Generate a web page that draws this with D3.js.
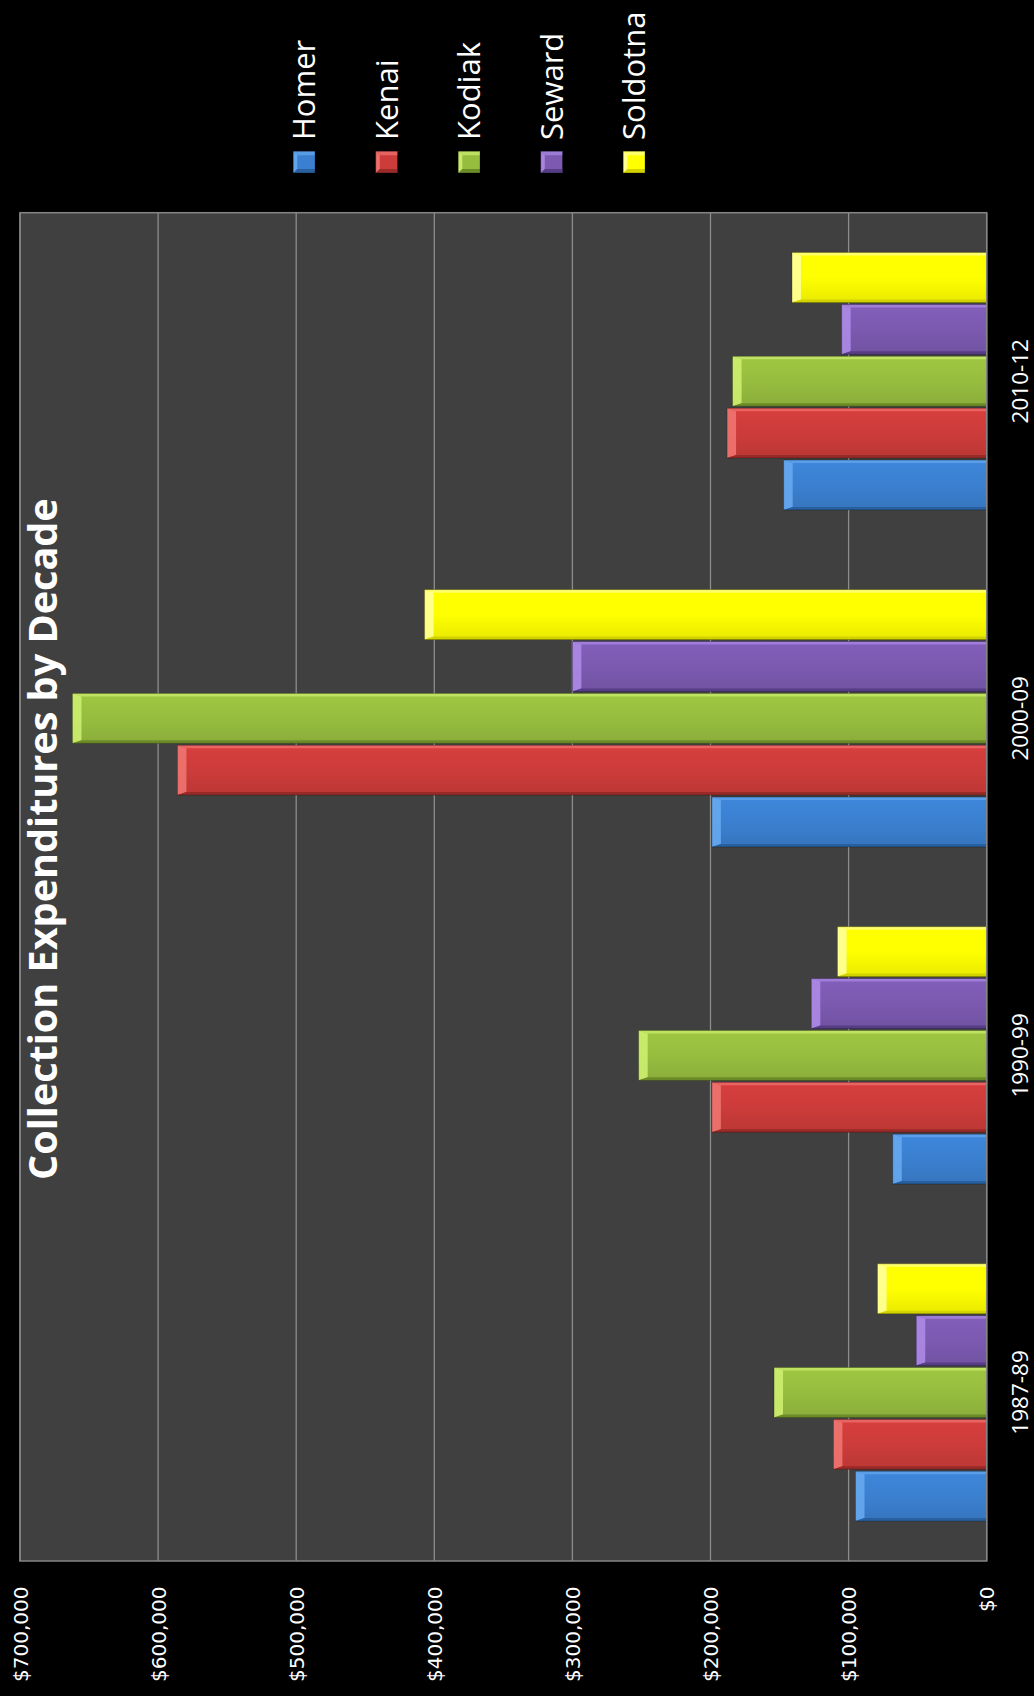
<!DOCTYPE html>
<html>
<head>
<meta charset="utf-8">
<script src="https://cdn.jsdelivr.net/npm/d3@7"></script>
<style>
  html, body { margin: 0; padding: 0; background: #000; }
  svg { display: block; }
</style>
</head>
<body>
<script>
// Collection expenditures per library, grouped by decade
const categories = ["1987-89", "1990-99", "2000-09", "2010-12"];
const seriesNames = ["Homer", "Kenai", "Kodiak", "Seward", "Soldotna"];
const homer    = [95000,  68000, 199000, 147000];
const kenai    = [111000, 199000, 586000, 188000];
const kodiak   = [154000, 252000, 662000, 184000];
const seward   = [51000,  127000, 300000, 105000];
const soldotna = [79000,  108000, 407000, 141000];
const valueTicks = [0, 100000, 200000, 300000, 400000, 500000, 600000, 700000];
const titleText = "Collection Expenditures by Decade";

const seriesValues = [homer, kenai, kodiak, seward, soldotna];

// face / highlight / shade for each series
const palette = [
  { face: "#3b80d0", light: "#66a8f0", dark: "#285f9f" },
  { face: "#cc3c3a", light: "#f07470", dark: "#982a28" },
  { face: "#97bd3f", light: "#cdee70", dark: "#6c8c28" },
  { face: "#7b5ab0", light: "#ad8ae6", dark: "#573d86" },
  { face: "#ffff00", light: "#ffff9a", dark: "#d2d200" }
];

const pageW = 1034, pageH = 1696;
// The chart is laid out in a landscape frame and turned a quarter turn.
const W = pageH, H = pageW;

const svg = d3.select("body").append("svg")
  .attr("width", pageW).attr("height", pageH)
  .style("background", "#000");

const g = svg.append("g")
  .attr("transform", `translate(0,${pageH}) rotate(-90)`);

const plot = { left: 135, right: 1483.3, top: 20, bottom: 986.7 };

const x0 = d3.scaleBand()
  .domain(categories)
  .range([plot.left, plot.right])
  .paddingInner(0).paddingOuter(0);

const x1 = d3.scaleBand()
  .domain(seriesNames)
  .range([0, x0.bandwidth()])
  .paddingInner(0).paddingOuter(0.75);

const y = d3.scaleLinear()
  .domain([0, 700000])
  .range([plot.bottom, plot.top]);

// plot area
g.append("rect")
  .attr("x", plot.left).attr("y", plot.top)
  .attr("width", plot.right - plot.left).attr("height", plot.bottom - plot.top)
  .attr("fill", "#404040");

// gridlines
g.append("g")
  .selectAll("line")
  .data(valueTicks)
  .join("line")
  .attr("x1", plot.left).attr("x2", plot.right)
  .attr("y1", d => y(d)).attr("y2", d => y(d))
  .attr("stroke", "#8c8c8c").attr("stroke-width", 1.3);

// value axis labels
const yAxis = d3.axisLeft(y)
  .tickValues(valueTicks)
  .tickSize(0).tickPadding(0)
  .tickFormat(d => "$" + d3.format(",")(d));
const yAxisG = g.append("g")
  .attr("transform", `translate(109.5,0)`)
  .call(yAxis);
yAxisG.select(".domain").remove();
yAxisG.selectAll("text")
  .attr("fill", "#ffffff")
  .attr("font-family", "'DejaVu Sans', Verdana, sans-serif")
  .attr("font-size", 20)
  .attr("dy", "0.36em");

// category axis labels
const xAxis = d3.axisBottom(x0).tickSize(0).tickPadding(0);
const xAxisG = g.append("g")
  .attr("transform", `translate(0,${plot.bottom})`)
  .call(xAxis);
xAxisG.select(".domain").remove();
xAxisG.selectAll("text")
  .attr("fill", "#ffffff")
  .attr("font-family", "'Open Sans', sans-serif")
  .attr("font-size", 22.5)
  .attr("y", 0)
  .attr("dy", 0)
  .attr("transform", "translate(0,41.5)");

// beveled bar drawn from its rectangle
function bevelBar(sel, bx, by, bw, bh, col, endBevel, sideBevel) {
  const xa = bx, xb = bx + bw, ya = by, yb = by + bh;
  const e = Math.min(endBevel, bh / 2), s = sideBevel;
  sel.append("rect")
    .attr("x", xa).attr("y", ya).attr("width", bw).attr("height", bh)
    .attr("fill", col.face);
  // end cap highlight
  sel.append("polygon")
    .attr("points", [[xa, ya], [xb, ya], [xb - s, ya + e], [xa + s, ya + e]].join(" "))
    .attr("fill", col.light).attr("opacity", 0.9);
  // shaded side
  sel.append("polygon")
    .attr("points", [[xa, ya], [xa + s, ya + e], [xa + s, yb], [xa, yb]].join(" "))
    .attr("fill", col.dark);
  // lit side
  sel.append("polygon")
    .attr("points", [[xb, ya], [xb - s, ya + e], [xb - s, yb], [xb, yb]].join(" "))
    .attr("fill", col.light).attr("opacity", 0.7);
  // thin outline
  sel.append("rect")
    .attr("x", xa).attr("y", ya).attr("width", bw).attr("height", bh)
    .attr("fill", "none").attr("stroke", "rgba(0,0,0,0.35)").attr("stroke-width", 0.8);
}

// soft shading across each bar face
const defs = svg.append("defs");
palette.forEach((c, i) => {
  const lg = defs.append("linearGradient").attr("id", "face" + i)
    .attr("x1", "0").attr("x2", "1").attr("y1", "0").attr("y2", "0");
  lg.append("stop").attr("offset", "0").attr("stop-color", d3.color(c.face).darker(0.25));
  lg.append("stop").attr("offset", "0.5").attr("stop-color", c.face);
  lg.append("stop").attr("offset", "1").attr("stop-color", d3.color(c.face).brighter(0.15));
});

const bars = g.append("g");
categories.forEach((cat, ci) => {
  seriesNames.forEach((name, si) => {
    const v = seriesValues[si][ci];
    const bx = x0(cat) + x1(name) + 1;
    const bw = x1.bandwidth() - 2;
    const by = y(v);
    const bh = y(0) - y(v);
    const grp = bars.append("g");
    bevelBar(grp, bx, by, bw, bh,
      { face: `url(#face${si})`, light: palette[si].light, dark: palette[si].dark }, 9, 3);
  });
});

// plot border
g.append("rect")
  .attr("x", plot.left).attr("y", plot.top)
  .attr("width", plot.right - plot.left).attr("height", plot.bottom - plot.top)
  .attr("fill", "none").attr("stroke", "#858585").attr("stroke-width", 1.5);

// title
const title = g.append("text")
  .attr("x", 516).attr("y", 56.5)
  .attr("fill", "#ffffff")
  .attr("font-family", "'Open Sans', sans-serif")
  .attr("font-weight", "bold")
  .attr("font-size", 38)
  .text(titleText);
const tLen = title.node().getComputedTextLength();
title.attr("font-size", 38 * 682 / tLen);

// legend
const legend = g.append("g");
seriesNames.forEach((name, i) => {
  const ly = 293.3 + i * 82.5;
  const item = legend.append("g");
  bevelBar(item, 1523, ly, 21.7, 21.7,
    { face: palette[i].face, light: palette[i].light, dark: palette[i].dark }, 4, 4);
  item.append("text")
    .attr("x", 1556).attr("y", ly + 21.7)
    .attr("fill", "#ffffff")
    .attr("font-family", "'Open Sans', sans-serif")
    .attr("font-size", 31)
    .text(name);
});
</script>
</body>
</html>
